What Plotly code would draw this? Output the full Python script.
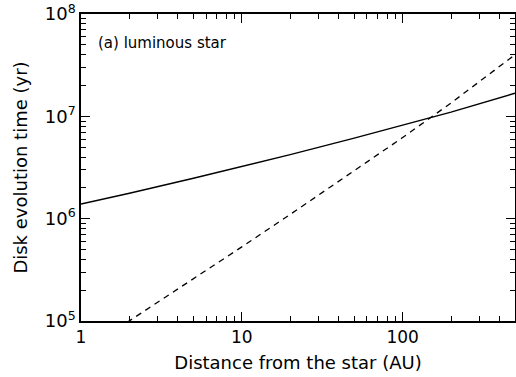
import plotly.graph_objects as go

# Radial distance grid (AU)
distance_au = [1, 2, 5, 10, 20, 50, 100, 200, 500]

# Disk evolution time (yr) for the two timescales
time_solid_yr = [1.39e6, 1.77e6, 2.48e6, 3.22e6, 4.23e6, 6.12e6, 8.18e6, 1.10e7, 1.68e7]
time_dashed_yr = [4.9e4, 1.0e5, 2.55e5, 5.3e5, 1.1e6, 2.95e6, 6.2e6, 1.35e7, 4.0e7]

x_tick_vals = [1, 10, 100]
x_tick_text = ["1", "10", "100"]
y_tick_vals = [1e5, 1e6, 1e7, 1e8]
y_tick_text = ["10<sup>5</sup>", "10<sup>6</sup>", "10<sup>7</sup>", "10<sup>8</sup>"]

FONT = "DejaVu Sans"
X_RANGE = [-0.0002, 2.699]
Y_RANGE = [4.9998, 8.0002]

fig = go.Figure()
fig.add_trace(go.Scatter(
    x=distance_au, y=time_solid_yr, mode="lines",
    line=dict(color="black", width=1.4), showlegend=False,
))
fig.add_trace(go.Scatter(
    x=distance_au, y=time_dashed_yr, mode="lines",
    line=dict(color="black", width=1.3, dash="6px,5px"), showlegend=False,
))
# empty trace that carries the top/right tick axes
fig.add_trace(go.Scatter(x=[], y=[], xaxis="x2", yaxis="y2", showlegend=False, hoverinfo="skip"))

fig.add_annotation(
    x=0.035, y=0.905, xref="paper", yref="paper",
    xanchor="left", yanchor="middle", showarrow=False,
    text="(a) luminous star", font=dict(family=FONT, size=15, color="black"),
)

tick_style = dict(
    type="log", showgrid=False, zeroline=False,
    ticks="inside", ticklen=9, tickwidth=1, tickcolor="black",
    minor=dict(ticks="inside", ticklen=5, tickwidth=1, tickcolor="black", dtick="D1", showgrid=False),
)

fig.update_layout(
    width=516, height=377,
    margin=dict(l=81, r=1, t=12, b=56),
    paper_bgcolor="white", plot_bgcolor="white",
    xaxis=dict(
        **tick_style, range=X_RANGE,
        showline=True, linecolor="black", linewidth=1.5,
        tickvals=x_tick_vals, ticktext=x_tick_text,
        tickfont=dict(family=FONT, size=17, color="black"),
        title=dict(text="Distance from the star (AU)",
                   font=dict(family=FONT, size=18, color="black"), standoff=10),
    ),
    yaxis=dict(
        **tick_style, range=Y_RANGE,
        showline=True, linecolor="black", linewidth=1.5,
        tickvals=y_tick_vals, ticktext=y_tick_text,
        ticklabeloverflow="allow",
        tickfont=dict(family=FONT, size=18, color="black"),
        title=dict(text="Disk evolution time (yr)",
                   font=dict(family=FONT, size=18, color="black"), standoff=12),
    ),
    xaxis2=dict(
        **tick_style, range=X_RANGE, overlaying="x", side="top", anchor="y",
        showline=True, linecolor="black", linewidth=1.5,
        tickvals=x_tick_vals, showticklabels=False,
    ),
    yaxis2=dict(
        **tick_style, range=Y_RANGE, overlaying="y", side="right", anchor="x",
        showline=True, linecolor="black", linewidth=1.5,
        tickvals=y_tick_vals, showticklabels=False,
    ),
)

fig.write_html("out.html")
